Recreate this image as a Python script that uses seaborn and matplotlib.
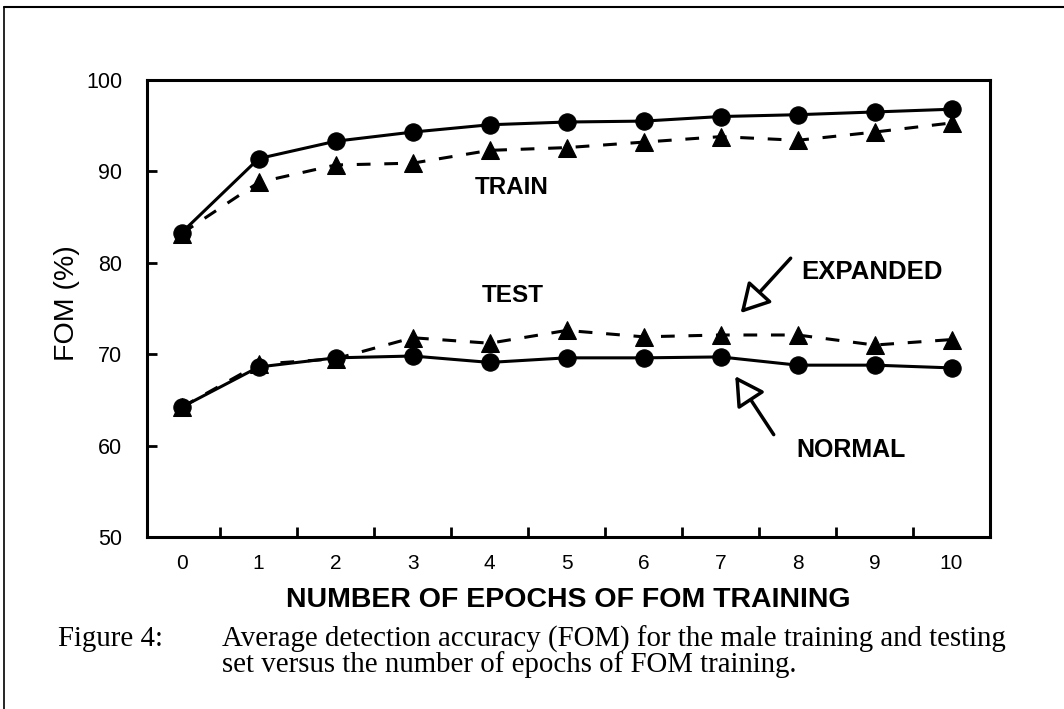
import matplotlib
matplotlib.use("Agg")
import matplotlib.pyplot as plt
from matplotlib.lines import Line2D
import seaborn as sns
import pandas as pd

epochs = [0, 1, 2, 3, 4, 5, 6, 7, 8, 9, 10]
train_normal = [83.3, 91.4, 93.3, 94.3, 95.1, 95.4, 95.5, 96.0, 96.2, 96.5, 96.8]
train_expanded = [83.2, 88.8, 90.7, 90.9, 92.3, 92.6, 93.2, 93.8, 93.4, 94.3, 95.3]
test_normal = [64.2, 68.6, 69.6, 69.8, 69.1, 69.6, 69.6, 69.7, 68.8, 68.8, 68.5]
test_expanded = [64.2, 68.9, 69.5, 71.8, 71.2, 72.6, 71.9, 72.1, 72.1, 71.0, 71.6]

y_ticks = [50, 60, 70, 80, 90, 100]
x_label = "NUMBER OF EPOCHS OF FOM TRAINING"
y_label = "FOM (%)"
caption_head = "Figure 4:"
caption_line1 = "Average detection accuracy (FOM) for the male training and testing"
caption_line2 = "set versus the number of epochs of FOM training."

sns.set_theme(style="white")
plt.rcParams['font.family'] = ['Liberation Sans', 'DejaVu Sans']
plt.rcParams['text.color'] = 'black'
plt.rcParams['axes.labelcolor'] = 'black'
plt.rcParams['xtick.color'] = 'black'
plt.rcParams['ytick.color'] = 'black'

fig = plt.figure(figsize=(10.64, 7.09), dpi=100)
ax = fig.add_axes([0.1382, 0.2426, 0.7923, 0.6446])

series = [
    (train_normal, "o", "-"),
    (train_expanded, "^", "--"),
    (test_normal, "o", "-"),
    (test_expanded, "^", "--"),
]
for vals, mk, ls in series:
    df = pd.DataFrame({"epoch": epochs, "fom": vals})
    sns.lineplot(data=df, x="epoch", y="fom", ax=ax, color="black",
                 marker=mk, markersize=12.5, markeredgecolor="black",
                 linewidth=2.2, linestyle=ls)
    line = ax.lines[-1]
    if ls == "--":
        line.set_dashes((4.5, 4.5))

ax.set_xlim(-0.45, 10.5)
ax.set_ylim(50, 100)
ax.set_yticks(y_ticks)
ax.set_xticks(epochs)
ax.set_xticks([e + 0.5 for e in epochs[:-1]], minor=True)
ax.tick_params(axis="x", which="major", length=0, labelsize=15, pad=12, colors="black")
ax.tick_params(axis="x", which="minor", direction="in", length=7, width=2, bottom=True)
ax.tick_params(axis="y", which="major", direction="in", length=7, width=2,
               labelsize=15.5, pad=18, left=True, colors="black")
for sp in ax.spines.values():
    sp.set_linewidth(2.2)
    sp.set_color("black")
ax.set_xlabel(x_label, fontsize=20.5, fontweight="bold", labelpad=10)
ax.set_ylabel(y_label, fontsize=20.5)
ax.yaxis.set_label_coords(-0.08, 0.512)

ax.text(4.29, 88.2, "TRAIN", fontsize=17.5, fontweight="bold", ha="center", va="center")
ax.text(4.30, 76.4, "TEST", fontsize=17.5, fontweight="bold", ha="center", va="center")
ax.text(8.97, 79.0, "EXPANDED", fontsize=18.5, fontweight="bold", ha="center", va="center")
ax.text(8.70, 59.5, "NORMAL", fontsize=18, fontweight="bold", ha="center", va="center")

arrow_kw = dict(arrowstyle="-|>,head_length=0.8,head_width=0.45", lw=2.5,
                facecolor="white", edgecolor="black", mutation_scale=22,
                shrinkA=0, shrinkB=0)
ax.annotate("", xy=(7.26, 74.5), xytext=(7.91, 80.5), arrowprops=arrow_kw)
ax.annotate("", xy=(7.19, 67.6), xytext=(7.69, 61.2), arrowprops=arrow_kw)

cap_kw = dict(fontsize=20.8, family="Liberation Serif", va="center", ha="left")
fig.text(58 / 1064, 1 - 639 / 709, caption_head, **cap_kw)
fig.text(222 / 1064, 1 - 639 / 709, caption_line1, **cap_kw)
fig.text(222 / 1064, 1 - 665 / 709, caption_line2, **cap_kw)

fig.add_artist(Line2D([4 / 1064, 1], [1 - 7 / 709, 1 - 7 / 709], transform=fig.transFigure,
                      color="black", lw=1.5))
fig.add_artist(Line2D([4 / 1064, 4 / 1064], [0, 1 - 7 / 709], transform=fig.transFigure,
                      color="black", lw=1.2))

fig.savefig("out.png", dpi=100)
